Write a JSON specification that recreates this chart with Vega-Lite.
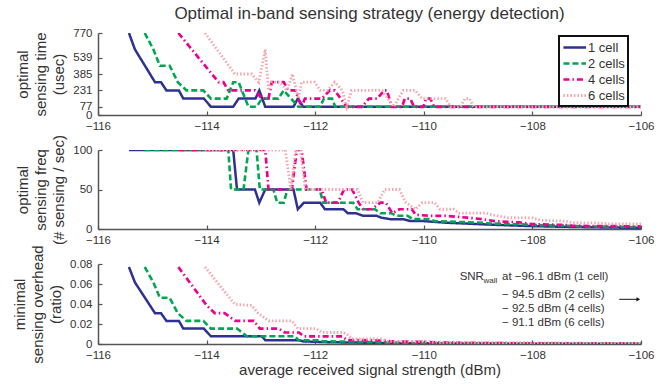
{
  "$schema": "https://vega.github.io/schema/vega-lite/v6.json",
  "background": "white",
  "padding": {"left": 12, "top": 5, "right": 5, "bottom": 0},
  "bounds": "flush",
  "spacing": 35,
  "config": {
    "font": "Liberation Sans",
    "view": {"stroke": null},
    "axis": {"grid": false, "domainColor": "#555", "domainWidth": 1.5, "tickColor": "#555", "tickWidth": 1.2, "tickSize": -4, "labelFontSize": 11.5, "labelColor": "#333", "labelOverlap": false, "labelFlush": false, "titleFontSize": 15, "titleFontWeight": "normal", "titleColor": "#333", "titleLineHeight": 18},
    "axisX": {"labelPadding": 9},
    "axisY": {"labelPadding": 10, "titlePadding": 6},
    "title": {"fontSize": 17, "fontWeight": "normal", "color": "#333"}
  },
  "datasets": {
    "series": [
      {"m":"t","c":"1 cell","x":-115.43,"y":770},{"m":"t","c":"1 cell","x":-115.32,"y":616},{"m":"t","c":"1 cell","x":-114.95,"y":308},{"m":"t","c":"1 cell","x":-114.84,"y":308},{"m":"t","c":"1 cell","x":-114.74,"y":231},{"m":"t","c":"1 cell","x":-114.51,"y":231},{"m":"t","c":"1 cell","x":-114.43,"y":154},{"m":"t","c":"1 cell","x":-114.05,"y":154},{"m":"t","c":"1 cell","x":-113.92,"y":77},{"m":"t","c":"1 cell","x":-113.51,"y":77},{"m":"t","c":"1 cell","x":-113.41,"y":154},{"m":"t","c":"1 cell","x":-113.10,"y":154},{"m":"t","c":"1 cell","x":-113.03,"y":231},{"m":"t","c":"1 cell","x":-112.92,"y":77},{"m":"t","c":"1 cell","x":-112.40,"y":77},{"m":"t","c":"1 cell","x":-112.32,"y":154},{"m":"t","c":"1 cell","x":-112.22,"y":77},{"m":"t","c":"1 cell","x":-106,"y":77},
      {"m":"t","c":"2 cells","x":-115.14,"y":770},{"m":"t","c":"2 cells","x":-114.98,"y":616},{"m":"t","c":"2 cells","x":-114.86,"y":462},{"m":"t","c":"2 cells","x":-114.68,"y":462},{"m":"t","c":"2 cells","x":-114.53,"y":308},{"m":"t","c":"2 cells","x":-114.37,"y":231},{"m":"t","c":"2 cells","x":-114.06,"y":231},{"m":"t","c":"2 cells","x":-113.92,"y":154},{"m":"t","c":"2 cells","x":-113.63,"y":154},{"m":"t","c":"2 cells","x":-113.51,"y":308},{"m":"t","c":"2 cells","x":-113.41,"y":308},{"m":"t","c":"2 cells","x":-113.23,"y":77},{"m":"t","c":"2 cells","x":-113.08,"y":77},{"m":"t","c":"2 cells","x":-112.98,"y":154},{"m":"t","c":"2 cells","x":-112.68,"y":154},{"m":"t","c":"2 cells","x":-112.58,"y":231},{"m":"t","c":"2 cells","x":-112.31,"y":77},{"m":"t","c":"2 cells","x":-111.91,"y":77},{"m":"t","c":"2 cells","x":-111.84,"y":154},{"m":"t","c":"2 cells","x":-111.69,"y":154},{"m":"t","c":"2 cells","x":-111.63,"y":77},{"m":"t","c":"2 cells","x":-106,"y":77},
      {"m":"t","c":"4 cells","x":-114.52,"y":770},{"m":"t","c":"4 cells","x":-113.78,"y":308},{"m":"t","c":"4 cells","x":-113.69,"y":308},{"m":"t","c":"4 cells","x":-113.60,"y":231},{"m":"t","c":"4 cells","x":-113.11,"y":231},{"m":"t","c":"4 cells","x":-112.98,"y":154},{"m":"t","c":"4 cells","x":-112.86,"y":154},{"m":"t","c":"4 cells","x":-112.80,"y":308},{"m":"t","c":"4 cells","x":-112.58,"y":308},{"m":"t","c":"4 cells","x":-112.49,"y":231},{"m":"t","c":"4 cells","x":-112.37,"y":231},{"m":"t","c":"4 cells","x":-112.25,"y":77},{"m":"t","c":"4 cells","x":-112.19,"y":154},{"m":"t","c":"4 cells","x":-111.88,"y":154},{"m":"t","c":"4 cells","x":-111.73,"y":231},{"m":"t","c":"4 cells","x":-111.64,"y":231},{"m":"t","c":"4 cells","x":-111.42,"y":77},{"m":"t","c":"4 cells","x":-111.14,"y":77},{"m":"t","c":"4 cells","x":-111.01,"y":154},{"m":"t","c":"4 cells","x":-110.86,"y":154},{"m":"t","c":"4 cells","x":-110.73,"y":231},{"m":"t","c":"4 cells","x":-110.68,"y":231},{"m":"t","c":"4 cells","x":-110.59,"y":77},{"m":"t","c":"4 cells","x":-110.40,"y":77},{"m":"t","c":"4 cells","x":-110.35,"y":154},{"m":"t","c":"4 cells","x":-110.25,"y":154},{"m":"t","c":"4 cells","x":-110.18,"y":77},{"m":"t","c":"4 cells","x":-110.01,"y":77},{"m":"t","c":"4 cells","x":-109.96,"y":154},{"m":"t","c":"4 cells","x":-109.88,"y":154},{"m":"t","c":"4 cells","x":-109.81,"y":77},{"m":"t","c":"4 cells","x":-106,"y":77},
      {"m":"t","c":"6 cells","x":-114.03,"y":770},{"m":"t","c":"6 cells","x":-113.48,"y":385},{"m":"t","c":"6 cells","x":-113.17,"y":385},{"m":"t","c":"6 cells","x":-113.04,"y":308},{"m":"t","c":"6 cells","x":-112.92,"y":616},{"m":"t","c":"6 cells","x":-112.86,"y":231},{"m":"t","c":"6 cells","x":-112.80,"y":308},{"m":"t","c":"6 cells","x":-112.65,"y":308},{"m":"t","c":"6 cells","x":-112.52,"y":231},{"m":"t","c":"6 cells","x":-112.42,"y":385},{"m":"t","c":"6 cells","x":-112.31,"y":154},{"m":"t","c":"6 cells","x":-112.25,"y":308},{"m":"t","c":"6 cells","x":-112.01,"y":308},{"m":"t","c":"6 cells","x":-111.91,"y":231},{"m":"t","c":"6 cells","x":-111.77,"y":231},{"m":"t","c":"6 cells","x":-111.64,"y":308},{"m":"t","c":"6 cells","x":-111.50,"y":231},{"m":"t","c":"6 cells","x":-111.42,"y":77},{"m":"t","c":"6 cells","x":-111.33,"y":231},{"m":"t","c":"6 cells","x":-110.77,"y":231},{"m":"t","c":"6 cells","x":-110.66,"y":154},{"m":"t","c":"6 cells","x":-110.55,"y":77},{"m":"t","c":"6 cells","x":-110.38,"y":231},{"m":"t","c":"6 cells","x":-110.16,"y":231},{"m":"t","c":"6 cells","x":-110.03,"y":154},{"m":"t","c":"6 cells","x":-109.60,"y":154},{"m":"t","c":"6 cells","x":-109.51,"y":77},{"m":"t","c":"6 cells","x":-109.33,"y":77},{"m":"t","c":"6 cells","x":-109.24,"y":154},{"m":"t","c":"6 cells","x":-109.16,"y":154},{"m":"t","c":"6 cells","x":-109.08,"y":77},{"m":"t","c":"6 cells","x":-106,"y":77},

      {"m":"f","c":"1 cell","x":-115.43,"y":100},{"m":"f","c":"1 cell","x":-113.51,"y":100},{"m":"f","c":"1 cell","x":-113.44,"y":50},{"m":"f","c":"1 cell","x":-113.11,"y":50},{"m":"f","c":"1 cell","x":-113.03,"y":33.3},{"m":"f","c":"1 cell","x":-112.92,"y":50},{"m":"f","c":"1 cell","x":-112.40,"y":50},{"m":"f","c":"1 cell","x":-112.32,"y":25},{"m":"f","c":"1 cell","x":-112.21,"y":33.3},{"m":"f","c":"1 cell","x":-111.91,"y":33.3},{"m":"f","c":"1 cell","x":-111.82,"y":25},{"m":"f","c":"1 cell","x":-111.48,"y":25},{"m":"f","c":"1 cell","x":-111.40,"y":20},{"m":"f","c":"1 cell","x":-111.25,"y":20},{"m":"f","c":"1 cell","x":-111.12,"y":16.7},{"m":"f","c":"1 cell","x":-110.87,"y":16.7},{"m":"f","c":"1 cell","x":-110.78,"y":14.3},{"m":"f","c":"1 cell","x":-110.62,"y":12.5},{"m":"f","c":"1 cell","x":-110.38,"y":12.5},{"m":"f","c":"1 cell","x":-110.25,"y":10},{"m":"f","c":"1 cell","x":-110.0,"y":10},{"m":"f","c":"1 cell","x":-109.6,"y":8},{"m":"f","c":"1 cell","x":-109.0,"y":6.2},{"m":"f","c":"1 cell","x":-108.5,"y":4.8},{"m":"f","c":"1 cell","x":-108.0,"y":3.6},{"m":"f","c":"1 cell","x":-107.5,"y":2.9},{"m":"f","c":"1 cell","x":-107.0,"y":2.3},{"m":"f","c":"1 cell","x":-106.5,"y":1.8},{"m":"f","c":"1 cell","x":-106.0,"y":1.5},
      {"m":"f","c":"2 cells","x":-115.14,"y":100},{"m":"f","c":"2 cells","x":-113.60,"y":100},{"m":"f","c":"2 cells","x":-113.55,"y":50},{"m":"f","c":"2 cells","x":-113.32,"y":50},{"m":"f","c":"2 cells","x":-113.23,"y":100},{"m":"f","c":"2 cells","x":-113.08,"y":100},{"m":"f","c":"2 cells","x":-113.02,"y":50},{"m":"f","c":"2 cells","x":-112.77,"y":50},{"m":"f","c":"2 cells","x":-112.70,"y":33.3},{"m":"f","c":"2 cells","x":-112.58,"y":33.3},{"m":"f","c":"2 cells","x":-112.51,"y":50},{"m":"f","c":"2 cells","x":-111.92,"y":50},{"m":"f","c":"2 cells","x":-111.85,"y":33.3},{"m":"f","c":"2 cells","x":-111.30,"y":33.3},{"m":"f","c":"2 cells","x":-111.22,"y":25},{"m":"f","c":"2 cells","x":-110.90,"y":25},{"m":"f","c":"2 cells","x":-110.80,"y":20},{"m":"f","c":"2 cells","x":-110.60,"y":20},{"m":"f","c":"2 cells","x":-110.50,"y":16.7},{"m":"f","c":"2 cells","x":-110.30,"y":16.7},{"m":"f","c":"2 cells","x":-110.20,"y":12.5},{"m":"f","c":"2 cells","x":-109.90,"y":12.5},{"m":"f","c":"2 cells","x":-109.80,"y":10},{"m":"f","c":"2 cells","x":-109.40,"y":9},{"m":"f","c":"2 cells","x":-108.92,"y":8},{"m":"f","c":"2 cells","x":-108.79,"y":7},{"m":"f","c":"2 cells","x":-108.24,"y":6},{"m":"f","c":"2 cells","x":-108.0,"y":5},{"m":"f","c":"2 cells","x":-107.4,"y":4.2},{"m":"f","c":"2 cells","x":-107.1,"y":3.3},{"m":"f","c":"2 cells","x":-106.5,"y":2.8},{"m":"f","c":"2 cells","x":-106.0,"y":2.5},
      {"m":"f","c":"4 cells","x":-114.52,"y":100},{"m":"f","c":"4 cells","x":-112.92,"y":100},{"m":"f","c":"4 cells","x":-112.86,"y":50},{"m":"f","c":"4 cells","x":-112.43,"y":50},{"m":"f","c":"4 cells","x":-112.34,"y":100},{"m":"f","c":"4 cells","x":-112.25,"y":100},{"m":"f","c":"4 cells","x":-112.16,"y":50},{"m":"f","c":"4 cells","x":-111.88,"y":50},{"m":"f","c":"4 cells","x":-111.80,"y":33.3},{"m":"f","c":"4 cells","x":-111.58,"y":33.3},{"m":"f","c":"4 cells","x":-111.47,"y":50},{"m":"f","c":"4 cells","x":-111.32,"y":50},{"m":"f","c":"4 cells","x":-111.20,"y":33.3},{"m":"f","c":"4 cells","x":-111.12,"y":25},{"m":"f","c":"4 cells","x":-110.96,"y":25},{"m":"f","c":"4 cells","x":-110.80,"y":33.3},{"m":"f","c":"4 cells","x":-110.70,"y":33.3},{"m":"f","c":"4 cells","x":-110.58,"y":20},{"m":"f","c":"4 cells","x":-110.45,"y":25},{"m":"f","c":"4 cells","x":-110.22,"y":25},{"m":"f","c":"4 cells","x":-110.15,"y":18},{"m":"f","c":"4 cells","x":-109.90,"y":16.7},{"m":"f","c":"4 cells","x":-109.60,"y":16.7},{"m":"f","c":"4 cells","x":-109.20,"y":14.3},{"m":"f","c":"4 cells","x":-108.92,"y":12.5},{"m":"f","c":"4 cells","x":-108.70,"y":10},{"m":"f","c":"4 cells","x":-108.24,"y":8.3},{"m":"f","c":"4 cells","x":-108.00,"y":6.2},{"m":"f","c":"4 cells","x":-107.39,"y":5},{"m":"f","c":"4 cells","x":-107.26,"y":4},{"m":"f","c":"4 cells","x":-106.00,"y":3.3},
      {"m":"f","c":"6 cells","x":-114.03,"y":100},{"m":"f","c":"6 cells","x":-112.55,"y":100},{"m":"f","c":"6 cells","x":-112.45,"y":50},{"m":"f","c":"6 cells","x":-112.36,"y":100},{"m":"f","c":"6 cells","x":-112.27,"y":100},{"m":"f","c":"6 cells","x":-112.18,"y":50},{"m":"f","c":"6 cells","x":-111.22,"y":50},{"m":"f","c":"6 cells","x":-111.12,"y":33.3},{"m":"f","c":"6 cells","x":-110.85,"y":33.3},{"m":"f","c":"6 cells","x":-110.72,"y":50},{"m":"f","c":"6 cells","x":-110.45,"y":50},{"m":"f","c":"6 cells","x":-110.33,"y":33.3},{"m":"f","c":"6 cells","x":-110.15,"y":25},{"m":"f","c":"6 cells","x":-110.03,"y":33.3},{"m":"f","c":"6 cells","x":-109.80,"y":33.3},{"m":"f","c":"6 cells","x":-109.70,"y":25},{"m":"f","c":"6 cells","x":-109.45,"y":25},{"m":"f","c":"6 cells","x":-109.35,"y":20},{"m":"f","c":"6 cells","x":-108.85,"y":20},{"m":"f","c":"6 cells","x":-108.75,"y":18},{"m":"f","c":"6 cells","x":-108.45,"y":14.3},{"m":"f","c":"6 cells","x":-108.0,"y":14},{"m":"f","c":"6 cells","x":-107.85,"y":11},{"m":"f","c":"6 cells","x":-107.40,"y":10},{"m":"f","c":"6 cells","x":-107.25,"y":8},{"m":"f","c":"6 cells","x":-106.75,"y":7.5},{"m":"f","c":"6 cells","x":-106.60,"y":6.5},{"m":"f","c":"6 cells","x":-106.00,"y":6.3},

      {"m":"o","c":"1 cell","x":-115.43,"y":0.077},{"m":"o","c":"1 cell","x":-115.32,"y":0.0616},{"m":"o","c":"1 cell","x":-114.95,"y":0.0308},{"m":"o","c":"1 cell","x":-114.84,"y":0.0308},{"m":"o","c":"1 cell","x":-114.74,"y":0.0231},{"m":"o","c":"1 cell","x":-114.51,"y":0.0231},{"m":"o","c":"1 cell","x":-114.43,"y":0.0154},{"m":"o","c":"1 cell","x":-114.05,"y":0.0154},{"m":"o","c":"1 cell","x":-113.92,"y":0.0077},{"m":"o","c":"1 cell","x":-112.98,"y":0.0077},{"m":"o","c":"1 cell","x":-112.92,"y":0.0038},{"m":"o","c":"1 cell","x":-112.30,"y":0.0038},{"m":"o","c":"1 cell","x":-112.21,"y":0.0026},{"m":"o","c":"1 cell","x":-111.82,"y":0.0019},{"m":"o","c":"1 cell","x":-111.40,"y":0.0015},{"m":"o","c":"1 cell","x":-111.12,"y":0.0013},{"m":"o","c":"1 cell","x":-110.78,"y":0.0011},{"m":"o","c":"1 cell","x":-110.62,"y":0.00096},{"m":"o","c":"1 cell","x":-110.25,"y":0.00077},{"m":"o","c":"1 cell","x":-109.6,"y":0.0006},{"m":"o","c":"1 cell","x":-109.0,"y":0.00048},{"m":"o","c":"1 cell","x":-108.0,"y":0.00028},{"m":"o","c":"1 cell","x":-107.0,"y":0.00018},{"m":"o","c":"1 cell","x":-106.0,"y":0.00012},
      {"m":"o","c":"2 cells","x":-115.14,"y":0.077},{"m":"o","c":"2 cells","x":-114.98,"y":0.0616},{"m":"o","c":"2 cells","x":-114.86,"y":0.0462},{"m":"o","c":"2 cells","x":-114.68,"y":0.0462},{"m":"o","c":"2 cells","x":-114.53,"y":0.0308},{"m":"o","c":"2 cells","x":-114.37,"y":0.0231},{"m":"o","c":"2 cells","x":-114.06,"y":0.0231},{"m":"o","c":"2 cells","x":-113.92,"y":0.0154},{"m":"o","c":"2 cells","x":-113.44,"y":0.0154},{"m":"o","c":"2 cells","x":-113.26,"y":0.0077},{"m":"o","c":"2 cells","x":-112.37,"y":0.0077},{"m":"o","c":"2 cells","x":-112.31,"y":0.0038},{"m":"o","c":"2 cells","x":-111.92,"y":0.0038},{"m":"o","c":"2 cells","x":-111.85,"y":0.0026},{"m":"o","c":"2 cells","x":-111.30,"y":0.0025},{"m":"o","c":"2 cells","x":-111.22,"y":0.0019},{"m":"o","c":"2 cells","x":-110.90,"y":0.0019},{"m":"o","c":"2 cells","x":-110.80,"y":0.0015},{"m":"o","c":"2 cells","x":-110.50,"y":0.0013},{"m":"o","c":"2 cells","x":-110.20,"y":0.001},{"m":"o","c":"2 cells","x":-109.80,"y":0.00077},{"m":"o","c":"2 cells","x":-109.0,"y":0.0006},{"m":"o","c":"2 cells","x":-108.0,"y":0.00038},{"m":"o","c":"2 cells","x":-107.0,"y":0.00025},{"m":"o","c":"2 cells","x":-106.0,"y":0.0002},
      {"m":"o","c":"4 cells","x":-114.52,"y":0.077},{"m":"o","c":"4 cells","x":-114.00,"y":0.0387},{"m":"o","c":"4 cells","x":-113.85,"y":0.0308},{"m":"o","c":"4 cells","x":-113.67,"y":0.0308},{"m":"o","c":"4 cells","x":-113.47,"y":0.0231},{"m":"o","c":"4 cells","x":-113.13,"y":0.0231},{"m":"o","c":"4 cells","x":-113.02,"y":0.0154},{"m":"o","c":"4 cells","x":-112.67,"y":0.0154},{"m":"o","c":"4 cells","x":-112.56,"y":0.0115},{"m":"o","c":"4 cells","x":-112.30,"y":0.0115},{"m":"o","c":"4 cells","x":-112.21,"y":0.0077},{"m":"o","c":"4 cells","x":-111.50,"y":0.0077},{"m":"o","c":"4 cells","x":-111.42,"y":0.004},{"m":"o","c":"4 cells","x":-110.80,"y":0.0035},{"m":"o","c":"4 cells","x":-110.60,"y":0.0026},{"m":"o","c":"4 cells","x":-110.0,"y":0.002},{"m":"o","c":"4 cells","x":-109.5,"y":0.0014},{"m":"o","c":"4 cells","x":-109.0,"y":0.001},{"m":"o","c":"4 cells","x":-108.5,"y":0.0008},{"m":"o","c":"4 cells","x":-108.0,"y":0.0006},{"m":"o","c":"4 cells","x":-107.0,"y":0.0004},{"m":"o","c":"4 cells","x":-106.0,"y":0.00025},
      {"m":"o","c":"6 cells","x":-114.03,"y":0.077},{"m":"o","c":"6 cells","x":-113.48,"y":0.0397},{"m":"o","c":"6 cells","x":-113.17,"y":0.0385},{"m":"o","c":"6 cells","x":-113.05,"y":0.0308},{"m":"o","c":"6 cells","x":-112.86,"y":0.0231},{"m":"o","c":"6 cells","x":-112.43,"y":0.0231},{"m":"o","c":"6 cells","x":-112.32,"y":0.0154},{"m":"o","c":"6 cells","x":-111.98,"y":0.0154},{"m":"o","c":"6 cells","x":-111.88,"y":0.0115},{"m":"o","c":"6 cells","x":-111.50,"y":0.0115},{"m":"o","c":"6 cells","x":-111.42,"y":0.01},{"m":"o","c":"6 cells","x":-111.32,"y":0.005},{"m":"o","c":"6 cells","x":-110.77,"y":0.005},{"m":"o","c":"6 cells","x":-110.66,"y":0.0026},{"m":"o","c":"6 cells","x":-109.98,"y":0.0026},{"m":"o","c":"6 cells","x":-109.8,"y":0.0018},{"m":"o","c":"6 cells","x":-109.0,"y":0.0015},{"m":"o","c":"6 cells","x":-108.0,"y":0.0012},{"m":"o","c":"6 cells","x":-107.0,"y":0.0008},{"m":"o","c":"6 cells","x":-106.0,"y":0.0006}
    ],
    "notes": [
      {"label":"SNR","x":-109.34,"y":0.0671},
      {"label":"at −96.1 dBm (1 cell)","x":-108.56,"y":0.0671},
      {"label":"− 94.5 dBm (2 cells)","x":-108.56,"y":0.0492},
      {"label":"− 92.5 dBm (4 cells)","x":-108.56,"y":0.035},
      {"label":"− 91.1 dBm (6 cells)","x":-108.56,"y":0.0214}
    ],
    "subs": [{"label":"wall","x":-108.90,"y":0.0634}],
    "arrow": [{"x":-106.40,"x2":-106.05,"y":0.0447}],
    "arrowhead": [{"x":-106.05,"y":0.0447}]
  },
  "resolve": {"legend": {"color": "independent", "strokeDash": "independent", "strokeWidth": "independent"}},
  "vconcat": [
    {
      "title": {"text": "Optimal in-band sensing strategy (energy detection)", "anchor": "middle", "offset": 4},
      "width": 543, "height": 82,
      "data": {"name": "series"},
      "transform": [{"filter": "datum.m === 't'"}],
      "mark": {"type": "line", "clip": true},
      "encoding": {
        "x": {"field": "x", "type": "quantitative", "scale": {"domain": [-116, -106], "nice": false}, "axis": {"values": [-116, -114, -112, -110, -108, -106], "title": null}},
        "y": {"field": "y", "type": "quantitative", "scale": {"domain": [0, 770], "nice": false}, "axis": {"values": [0, 77, 231, 385, 539, 770], "title": ["optimal", "sensing time", "(usec)"]}},
        "color": {"field": "c", "type": "ordinal", "scale": {"domain": ["1 cell", "2 cells", "4 cells", "6 cells"], "range": ["#2e3192", "#00a651", "#ec008c", "#f5a5ae"]},
          "legend": {"title": null, "orient": "none", "legendX": 461, "legendY": 3, "padding": 3, "columnPadding": 0, "strokeColor": "#111", "fillColor": "white", "symbolType": "M-1,0H2.2", "symbolSize": 200, "labelOffset": 9, "labelFontSize": 13, "labelColor": "#333", "rowPadding": 0, "encode": {"legend": {"update": {"strokeWidth": {"value": 2}}}}}},
        "strokeDash": {"field": "c", "type": "ordinal", "scale": {"domain": ["1 cell", "2 cells", "4 cells", "6 cells"], "range": [[1, 0], [6, 3], [6, 3, 1.5, 3], [1.5, 2]]}},
        "strokeWidth": {"field": "c", "type": "ordinal", "scale": {"domain": ["1 cell", "2 cells", "4 cells", "6 cells"], "range": [2.5, 2.8, 2.8, 1.3]}}
      }
    },
    {
      "width": 543, "height": 79,
      "data": {"name": "series"},
      "transform": [{"filter": "datum.m === 'f'"}],
      "mark": {"type": "line", "clip": true},
      "encoding": {
        "x": {"field": "x", "type": "quantitative", "scale": {"domain": [-116, -106], "nice": false}, "axis": {"values": [-116, -114, -112, -110, -108, -106], "title": null}},
        "y": {"field": "y", "type": "quantitative", "scale": {"domain": [0, 100], "nice": false}, "axis": {"values": [0, 50, 100], "title": ["optimal", "sensing freq", "(# sensing / sec)"]}},
        "color": {"field": "c", "type": "ordinal", "scale": {"domain": ["1 cell", "2 cells", "4 cells", "6 cells"], "range": ["#2e3192", "#00a651", "#ec008c", "#f5a5ae"]}, "legend": null},
        "strokeDash": {"field": "c", "type": "ordinal", "scale": {"domain": ["1 cell", "2 cells", "4 cells", "6 cells"], "range": [[1, 0], [6, 3], [6, 3, 1.5, 3], [1.5, 2]]}, "legend": null},
        "strokeWidth": {"field": "c", "type": "ordinal", "scale": {"domain": ["1 cell", "2 cells", "4 cells", "6 cells"], "range": [2.5, 2.8, 2.8, 1.3]}, "legend": null}
      }
    },
    {
      "width": 543, "height": 80,
      "encoding": {
        "x": {"field": "x", "type": "quantitative", "scale": {"domain": [-116, -106], "nice": false}, "axis": {"values": [-116, -114, -112, -110, -108, -106], "title": "average received signal strength (dBm)", "titlePadding": 2}},
        "y": {"field": "y", "type": "quantitative", "scale": {"domain": [0, 0.08], "nice": false}, "axis": {"values": [0, 0.02, 0.04, 0.06, 0.08], "format": ".2~f", "title": ["minimal", "sensing overhead", "(ratio)"]}}
      },
      "layer": [
        {
          "data": {"name": "series"},
          "transform": [{"filter": "datum.m === 'o'"}],
          "mark": {"type": "line", "clip": true},
          "encoding": {
            "color": {"field": "c", "type": "ordinal", "scale": {"domain": ["1 cell", "2 cells", "4 cells", "6 cells"], "range": ["#2e3192", "#00a651", "#ec008c", "#f5a5ae"]}, "legend": null},
            "strokeDash": {"field": "c", "type": "ordinal", "scale": {"domain": ["1 cell", "2 cells", "4 cells", "6 cells"], "range": [[1, 0], [6, 3], [6, 3, 1.5, 3], [1.5, 2]]}, "legend": null},
            "strokeWidth": {"field": "c", "type": "ordinal", "scale": {"domain": ["1 cell", "2 cells", "4 cells", "6 cells"], "range": [2.5, 2.8, 2.8, 1.3]}, "legend": null}
          }
        },
        {
          "data": {"name": "notes"},
          "mark": {"type": "text", "align": "left", "baseline": "middle", "fontSize": 11.5, "color": "#333"},
          "encoding": {"text": {"field": "label"}}
        },
        {
          "data": {"name": "subs"},
          "mark": {"type": "text", "align": "left", "baseline": "middle", "fontSize": 8, "color": "#333"},
          "encoding": {"text": {"field": "label"}}
        },
        {
          "data": {"name": "arrow"},
          "mark": {"type": "rule", "color": "#111", "strokeWidth": 1},
          "encoding": {"x2": {"field": "x2"}}
        },
        {
          "data": {"name": "arrowhead"},
          "mark": {"type": "point", "shape": "triangle-right", "filled": true, "color": "#111", "size": 18, "opacity": 1},
          "encoding": {}
        }
      ]
    }
  ]
}
